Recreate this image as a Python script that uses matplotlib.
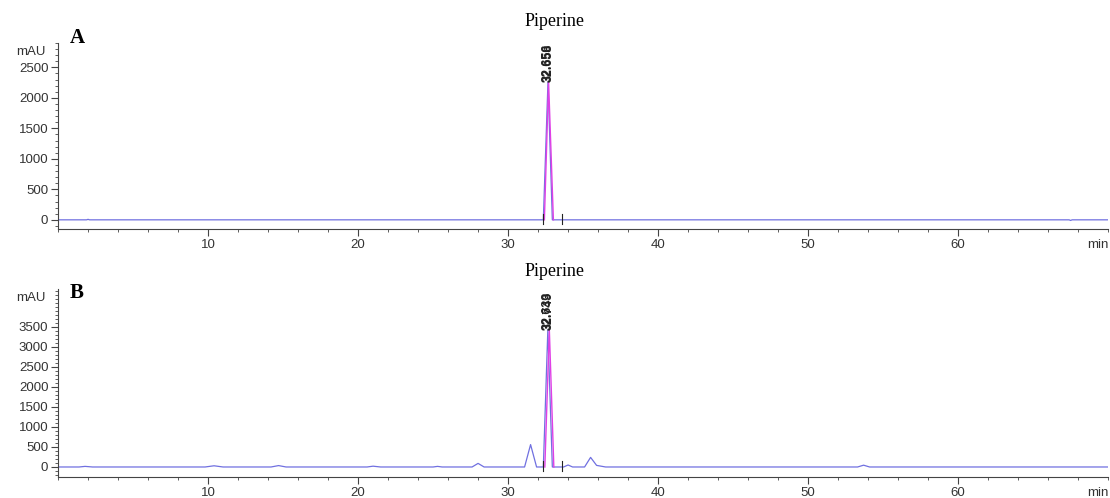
import matplotlib.pyplot as plt
from matplotlib.ticker import MultipleLocator

# chromatogram A (standard)
a_time = [0.0, 1.9, 2.0, 2.1, 32.35, 32.66, 32.95, 67.4, 67.5, 67.6, 70.0]
a_signal = [0, 0, 8, 0, 0, 2260, 0, 0, -10, 0, 0]
a_fit_time = [32.42, 32.70, 33.02]
a_fit_signal = [0, 2260, 0]
a_labels = ['32.656', '32.658']
a_label_rt = [32.64, 32.70]
a_yticks = [0, 500, 1000, 1500, 2000, 2500]

# chromatogram B (sample)
b_time = [0.0, 1.4, 1.8, 2.3, 9.8, 10.4, 11.0, 14.2, 14.7, 15.2, 20.6, 21.0, 21.5,
          25.0, 25.3, 25.6, 27.6, 28.0, 28.4, 31.1, 31.5, 31.9, 32.35, 32.65, 32.95,
          33.7, 34.0, 34.3, 35.1, 35.5, 35.9, 36.5, 53.3, 53.7, 54.1, 70.0]
b_signal = [0, 0, 15, 0, 0, 30, 0, 0, 35, 0, 0, 20, 0,
            0, 15, 0, 0, 90, 0, 0, 560, 0, 0, 3430, 0,
            0, 50, 0, 0, 240, 40, 0, 0, 45, 0, 0]
b_fit_time = [32.45, 32.75, 33.05]
b_fit_signal = [0, 3430, 0]
b_labels = ['32.633', '32.749']
b_label_rt = [32.62, 32.74]
b_yticks = [0, 500, 1000, 1500, 2000, 2500, 3000, 3500]

# baseline event markers near the main peak
event_rt = [32.3, 33.6]

x_limits = (0, 70)
a_ylim = (-150, 2900)
b_ylim = (-250, 4450)

BLUE = '#7070e0'
MAGENTA = '#e040e6'


def draw_panel(ax, time, signal, fit_time, fit_signal, labels, label_rt, ylim, yticks,
               letter, letter_y):
    ax.plot(time, signal, color=BLUE, lw=0.9)
    ax.plot(fit_time, fit_signal, color=MAGENTA, lw=1.0)
    span = ylim[1] - ylim[0]
    for rt in event_rt:
        ax.plot([rt, rt], [-0.02 * span, 0.03 * span], color='#222222', lw=0.8)
    top = max(fit_signal)
    for lab, rt in zip(labels, label_rt):
        ax.text(rt, top, lab, rotation=90, ha='center', va='bottom',
                fontsize=9, fontweight='bold', color='#222222')

    ax.set_xlim(*x_limits)
    ax.set_ylim(*ylim)
    ax.set_xticks([10, 20, 30, 40, 50, 60])
    ax.xaxis.set_minor_locator(MultipleLocator(2))
    ax.set_yticks(yticks)
    ax.yaxis.set_minor_locator(MultipleLocator(100))
    ax.tick_params(axis='both', which='major', length=5, width=0.8, colors='#444444',
                   labelsize=9.5, labelcolor='#333333', pad=2)
    ax.tick_params(axis='both', which='minor', length=2.5, width=0.6, colors='#444444')
    for side in ['top', 'right']:
        ax.spines[side].set_visible(False)
    for side in ['left', 'bottom']:
        ax.spines[side].set_color('#444444')
        ax.spines[side].set_linewidth(0.8)

    ax.annotate('mAU', xy=(0, 0.95), xycoords='axes fraction', xytext=(-9, 0),
                textcoords='offset points', ha='right', va='center', fontsize=9.5, color='#333333')
    ax.annotate('min', xy=(0.99, 0), xycoords='axes fraction', xytext=(0, -7),
                textcoords='offset points', ha='center', va='top', fontsize=9.5, color='#333333')
    ax.text(0.0114, letter_y, letter, transform=ax.transAxes, ha='left', va='baseline',
            fontsize=15, fontweight='bold', family='Liberation Serif')


def main():
    plt.rcParams['font.family'] = ['Liberation Sans', 'DejaVu Sans']
    fig = plt.figure(figsize=(11.1, 4.98), dpi=100)
    ax_a = fig.add_axes([0.0523, 0.5402, 0.946, 0.3735])
    ax_b = fig.add_axes([0.0523, 0.0422, 0.946, 0.3775])

    draw_panel(ax_a, a_time, a_signal, a_fit_time, a_fit_signal, a_labels, a_label_rt,
               a_ylim, a_yticks, 'A', 1.0)
    draw_panel(ax_b, b_time, b_signal, b_fit_time, b_fit_signal, b_labels, b_label_rt,
               b_ylim, b_yticks, 'B', 0.952)

    fig.text(0.5, 1 - 22 / 498, 'Piperine', ha='center', va='center', fontsize=13,
             family='Liberation Serif')
    fig.text(0.5, 1 - 272 / 498, 'Piperine', ha='center', va='center', fontsize=13,
             family='Liberation Serif')

    fig.savefig('out.png', dpi=100)


if __name__ == '__main__':
    main()
